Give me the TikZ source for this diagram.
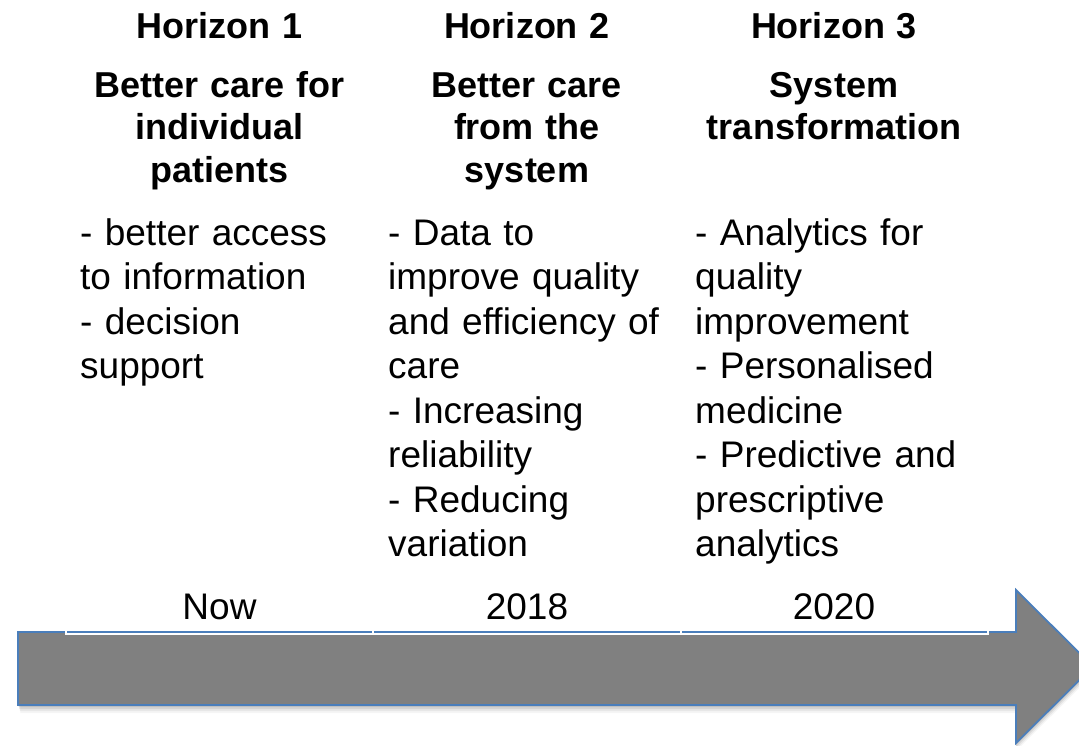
\documentclass[tikz,border=0pt]{standalone}
\usepackage{fontspec}
\setmainfont{Liberation Sans}
\begin{document}
\begin{tikzpicture}[x=1pt,y=-1pt,
  hzlabel/.style={inner sep=0pt, anchor=base, text width=300pt, align=center,
    font=\fontsize{36}{42.5}\selectfont\bfseries},
  hzbody/.style={inner sep=0pt, anchor=base west, text width=300pt, align=left,
    font=\fontsize{37}{44.5}\selectfont},
  yearlabel/.style={inner sep=0pt, anchor=base, font=\fontsize{37}{44.5}\selectfont},
  timeline/.style={fill={rgb,255:red,128;green,128;blue,128},
    draw={rgb,255:red,74;green,126;blue,187}, line width=1.8pt, line join=miter},
  gridline/.style={draw=white, line width=2pt}]
\useasboundingbox (0,0) rectangle (1079,745);
\clip (0,0) rectangle (1079,745);

% soft shadow under the timeline arrow
\foreach \d/\o in {2/0.10,4/0.08,6/0.06,8/0.04}{
  \fill[black, opacity=\o]
    (18+\d*0.3,632+\d) -- (1016,632+\d) -- (1016,590+\d) -- (1093,666.5+\d)
    -- (1016,743+\d) -- (1016,705+\d) -- (18+\d*0.3,705+\d) -- cycle;
}
% timeline arrow
\path[timeline] (18,632) -- (1016,632) -- (1016,590) -- (1093,666.5)
  -- (1016,743) -- (1016,705) -- (18,705) -- cycle;

% white table borders crossing the arrow edge
\coordinate (g0) at (66,634);
\coordinate (g1) at (373,634);
\coordinate (g2) at (681,634);
\coordinate (g3) at (988,634);
\draw[gridline] (66,628) -- (g0) -- (g3) -- (988,628);
\draw[gridline] (373,628) -- (g1);
\draw[gridline] (681,628) -- (g2);

% column headings
\node[hzlabel] (h1) at (219.5,38) {Horizon 1};
\node[hzlabel] (h2) at (527,38) {Horizon 2};
\node[hzlabel] (h3) at (834,38) {Horizon 3};

\node[hzlabel] (t1) at (219.5,97) {Better care for\\individual\\patients};
\node[hzlabel] (t2) at (527,97) {Better care\\from the\\system};
\node[hzlabel] (t3) at (834,97) {System\\transformation};

% column contents
\node[hzbody] (b1) at (80,245) {- better access\\to information\\- decision\\support};
\node[hzbody] (b2) at (388,245) {- Data to\\improve quality\\and efficiency of\\care\\- Increasing\\reliability\\- Reducing\\variation};
\node[hzbody] (b3) at (695,245) {- Analytics for\\quality\\improvement\\- Personalised\\medicine\\- Predictive and\\prescriptive\\analytics};

% time markers
\node[yearlabel] (y1) at (219.5,619) {Now};
\node[yearlabel] (y2) at (527,619) {2018};
\node[yearlabel] (y3) at (834,619) {2020};
\end{tikzpicture}
\end{document}
